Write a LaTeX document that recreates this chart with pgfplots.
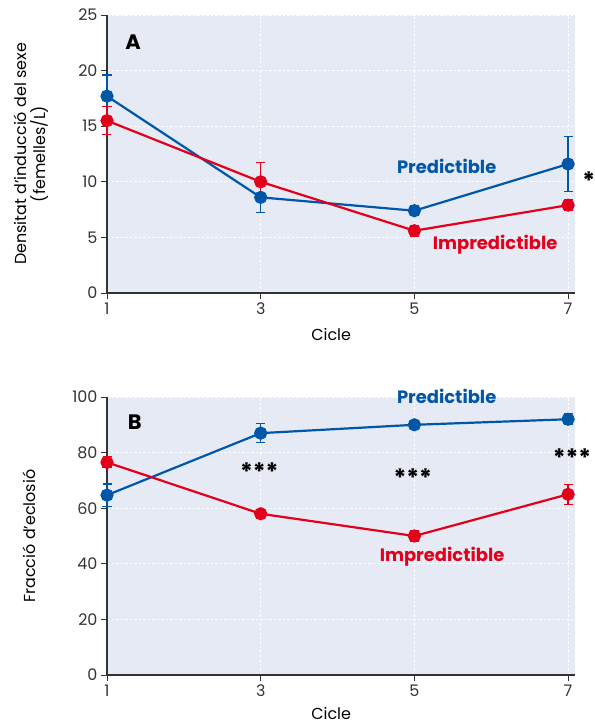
\documentclass[border=0pt]{standalone}
\usepackage{fontspec}
\setmainfont{Poppins}
\usepackage{pgfplots}
\pgfplotsset{compat=1.18}
\definecolor{pblue}{RGB}{0,87,168}
\definecolor{pred}{RGB}{227,0,27}
\definecolor{bg}{RGB}{230,234,244}
\definecolor{axc}{RGB}{51,51,51}
\pgfplotsset{myax/.style={
  scale only axis, width=468bp, height=278bp,
  xmin=1, xmax=7.09,
  axis x line*=bottom, axis y line*=left,
  axis line style={-, axc, line width=1.2bp},
  xtick={1,3,5,7},
  tick style={axc, line width=1bp},
  tick align=outside, major tick length=6bp,
  axis background/.style={fill=bg},
  grid=major, grid style={white, dash pattern=on 2.5bp off 2bp, line width=0.8bp},
  tick label style={font=\fontsize{16}{16}\selectfont, text=axc},
  label style={font=\fontsize{16}{20}\selectfont},
  /pgf/number format/assume math mode=true,
  xlabel={Cicle},
  clip=false,
},
bl/.style={pblue, line width=2.2bp, mark=*, mark size=5.5bp, mark options={solid},
  error bars/.cd, y dir=both, y explicit, error mark=|,
  error bar style={line width=1.2bp, pblue},
  error mark options={pblue, line width=1.2bp, mark size=4.5bp}},
rd/.style={pred, line width=2.2bp, mark=*, mark size=5.5bp, mark options={solid},
  error bars/.cd, y dir=both, y explicit, error mark=|,
  error bar style={line width=1.2bp, pred},
  error mark options={pred, line width=1.2bp, mark size=4.5bp}},
}
\begin{document}
\begin{tikzpicture}
\useasboundingbox (0,0) rectangle (595bp,-727bp);
\begin{axis}[myax, at={(107bp,-293bp)}, anchor=south west,
  ymin=0, ymax=25, ytick={0,5,10,15,20,25},
  xlabel style={at={(axis description cs:0.479,0)}, anchor=center, yshift=-42bp},
  ylabel={Densitat d’inducció del sexe\\(femelles/L)},
  ylabel style={align=center, at={(axis description cs:-0.162,0.5)}, anchor=center}]
\addplot[bl] coordinates {(1,17.7) +- (0,1.9) (3,8.6) +- (0,1.35) (5,7.4) +- (0,0.45) (7,11.6) +- (0,2.5)};
\addplot[rd] coordinates {(1,15.5) +- (0,1.25) (3,10.0) +- (0,1.7) (5,5.6) +- (0,0.5) (7,7.9) +- (0,0.5)};
\node[font=\fontsize{21}{21}\selectfont\bfseries] at (axis cs:1.34,22.6) {A};
\node[font=\fontsize{18}{18}\selectfont\bfseries, text=pblue] at (axis cs:5.42,11.4) {Predictible};
\node[font=\fontsize{18}{18}\selectfont\bfseries, text=pred] at (axis cs:6.05,4.3) {Impredictible};
\node[font=\fontsize{24}{24}\selectfont\bfseries] at (axis cs:7.27,10.1) {*};
\end{axis}
\begin{axis}[myax, at={(107bp,-675bp)}, anchor=south west,
  ymin=0, ymax=100, ytick={0,20,40,60,80,100},
  xlabel style={at={(axis description cs:0.479,0)}, anchor=center, yshift=-38bp},
  ylabel={Fracció d’eclosió},
  ylabel style={at={(axis description cs:-0.165,0.5)}, anchor=center}]
\addplot[bl] coordinates {(1,64.7) +- (0,4) (3,87) +- (0,3.5) (5,90) +- (0,1) (7,92) +- (0,2)};
\addplot[rd] coordinates {(1,76.5) +- (0,2) (3,58) +- (0,1.5) (5,50) +- (0,2) (7,65) +- (0,3.6)};
\node[font=\fontsize{21}{21}\selectfont\bfseries] at (axis cs:1.36,91) {B};
\node[font=\fontsize{18}{18}\selectfont\bfseries, text=pblue] at (axis cs:5.42,100.4) {Predictible};
\node[font=\fontsize{18}{18}\selectfont\bfseries, text=pred] at (axis cs:5.36,42.4) {Impredictible};
\node[font=\fontsize{24}{24}\selectfont\bfseries] at (axis cs:2.98,73.2) {***};
\node[font=\fontsize{24}{24}\selectfont\bfseries] at (axis cs:4.98,71.0) {***};
\node[font=\fontsize{24}{24}\selectfont\bfseries] at (axis cs:7.05,78.3) {***};
\end{axis}
\end{tikzpicture}
\end{document}
